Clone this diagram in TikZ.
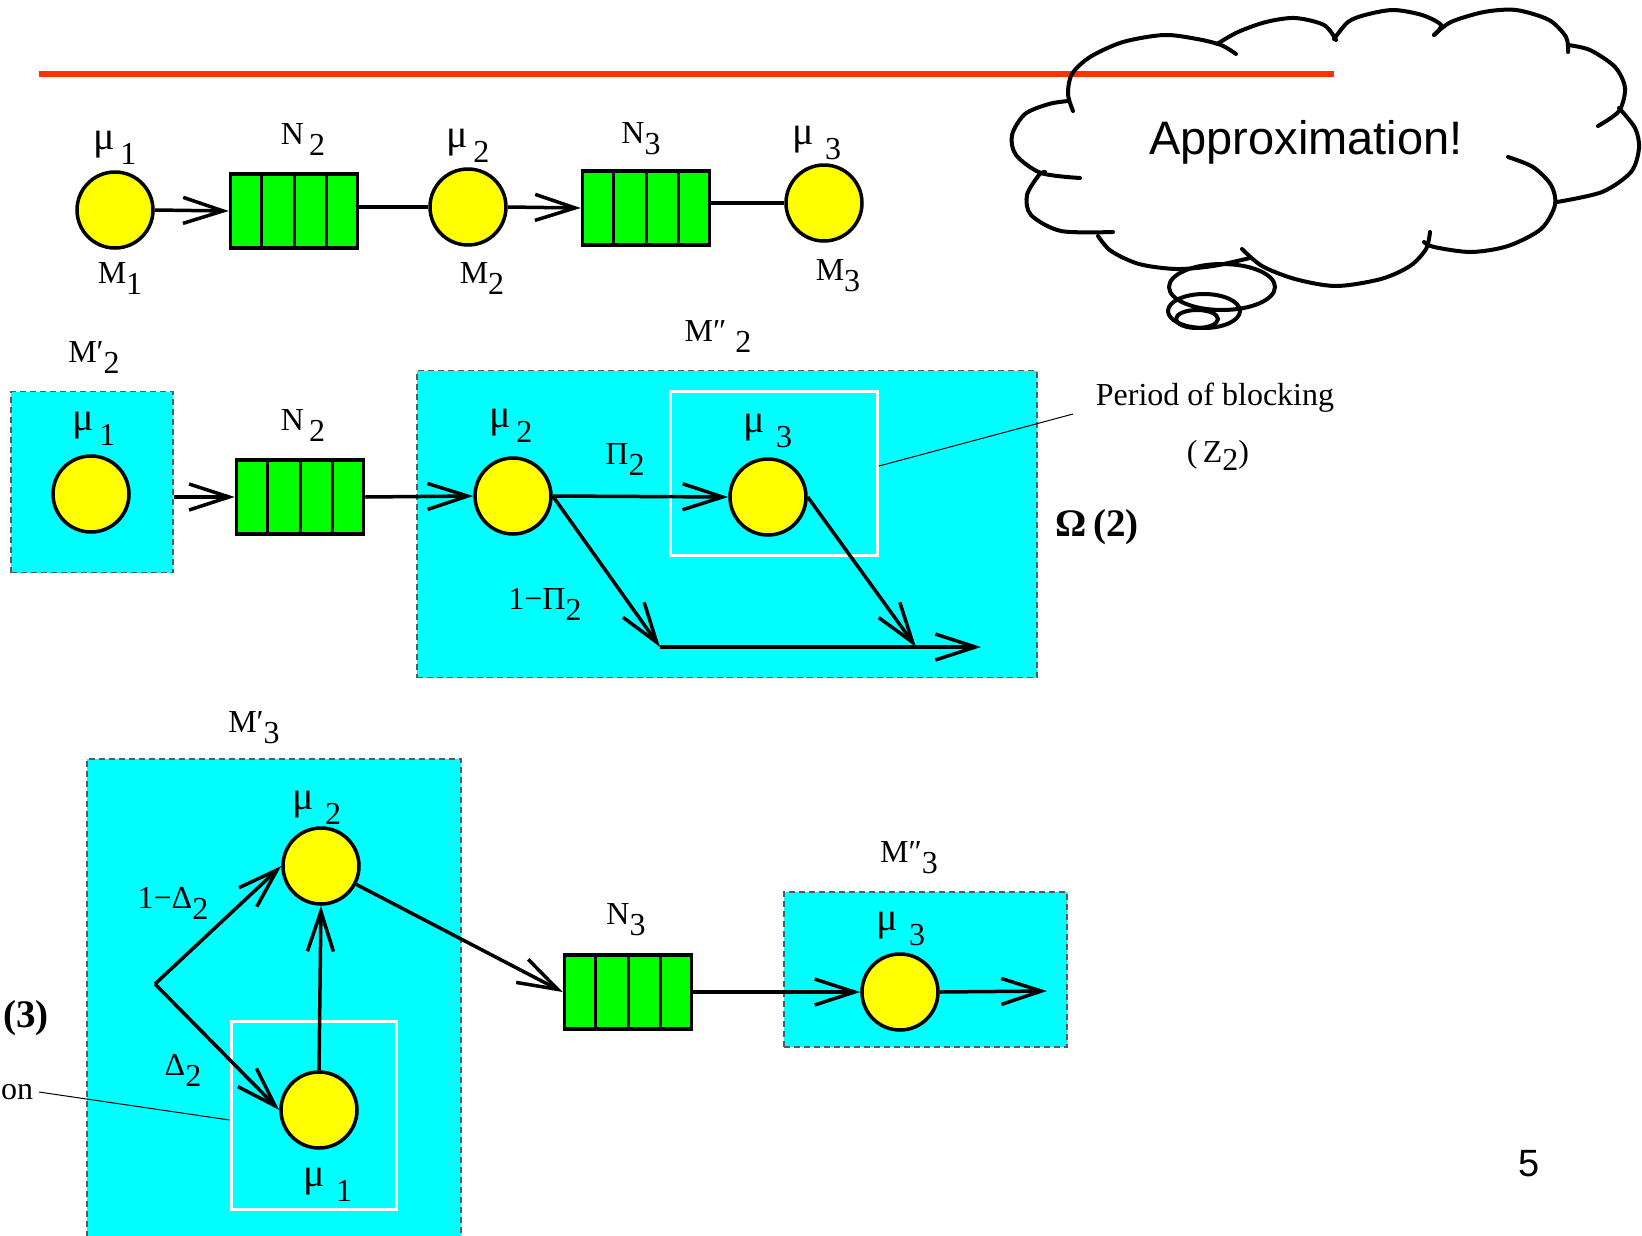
\documentclass[tikz,border=0pt]{standalone}
\usepackage{fontspec}
\setmainfont{Liberation Serif}
\setsansfont{Liberation Sans}
\usetikzlibrary{arrows.meta,calc}

\definecolor{rule}{RGB}{255,51,0}
\definecolor{stagecol}{RGB}{0,255,255}
\definecolor{bufcol}{RGB}{0,255,0}
\definecolor{servcol}{RGB}{255,255,0}

\tikzset{
  server/.style={circle,draw,fill=servcol,line width=3.5pt,minimum size=76pt,inner sep=0pt},
  buffer/.style={rectangle,draw,fill=bufcol,line width=3.5pt,minimum width=127pt,minimum height=74pt,inner sep=0pt},
  stage/.style={rectangle,draw=black!65,dash pattern=on 6pt off 4pt,fill=stagecol,line width=1.3pt,inner sep=0pt},
  hold/.style={rectangle,draw=white,line width=3pt,inner sep=0pt},
  arr/.style={line width=3.5pt,-{Straight Barb[length=40pt,width=26pt]}},
  link/.style={line width=3.5pt},
  lbl/.style={font=\fontsize{32}{38}\selectfont,inner sep=0pt},
  leader/.style={line width=1pt},
  puff/.style={line width=4pt,line cap=round},
}
\newcommand{\lo}[1]{\raisebox{-11pt}{#1}}
\newcommand{\rt}[1]{\raisebox{5pt}{\fontsize{40}{46}\selectfont μ}\,\raisebox{-10pt}{#1}}

\begin{document}
\begin{tikzpicture}[x=1pt,y=-1pt]
\useasboundingbox (0,0) rectangle (1642,1235);
\fill[white] (0,0) rectangle (1642,1235);

% title rule
\draw[rule,line width=6pt] (39,74) -- (1334,74);

% first line
\node[server] (c11) at (115,210) {};
\node[buffer] (q1) at (294,211) {};
\node[server] (c12) at (468,207) {};
\node[buffer] (q2) at (646,208) {};
\node[server] (c13) at (824,203) {};

\draw[arr] (c11.east) -- (q1.west);
\draw[link] (q1.east |- c12) -- (c12.west);
\draw[arr] (c12.east) -- (q2.west);
\draw[link] (q2.east |- c13) -- (c13.west);

\node[lbl] (mu11) at (115,148) {\rt{1}};
\node[lbl] (n12) at (303,140) {N\,\lo{2}};
\node[lbl] (mu12) at (468,146) {\rt{2}};
\node[lbl] (n13) at (641,139) {N\lo{3}};
\node[lbl] (mu13) at (817,143) {\rt{\,3}};
\node[lbl] (m1) at (120,279) {M\lo{1}};
\node[lbl] (m2) at (482,279) {M\lo{2}};
\node[lbl] (m3) at (838,276) {M\lo{3}};

% thought cloud
\draw[puff] plot[smooth] coordinates {(1073,111) (1068,94) (1072,74) (1090,57) (1123,42) (1164,35) (1197,39) (1221,45) (1236,54)};
\draw[puff] plot[smooth] coordinates {(1217,44) (1238,32) (1266,22) (1295,18) (1324,25) (1336,40)};
\draw[puff] plot[smooth] coordinates {(1334,39) (1348,22) (1365,15) (1393,10) (1422,15) (1441,25) (1434,35)};
\draw[puff] plot[smooth] coordinates {(1434,35) (1451,22) (1484,12) (1516,10) (1549,20) (1566,37) (1568,52)};
\draw[puff] plot[smooth] coordinates {(1568,45) (1590,50) (1615,67) (1625,88) (1619,111) (1598,126)};
\draw[puff] plot[smooth] coordinates {(1619,108) (1635,128) (1639,148) (1631,172) (1602,192) (1557,202)};
\draw[puff] plot[smooth] coordinates {(1508,157) (1533,167) (1551,185) (1555,205) (1541,229) (1508,246) (1471,252) (1434,247) (1424,242)};
\draw[puff] plot[smooth] coordinates {(1430,232) (1426,249) (1410,266) (1381,279) (1336,286) (1295,279) (1262,266) (1242,249)};
\draw[puff] plot[smooth] coordinates {(1250,258) (1213,266) (1176,269) (1139,264) (1111,251) (1098,236)};
\draw[puff] plot[smooth] coordinates {(1113,232) (1061,231) (1031,215) (1027,195) (1039,175) (1045,172)};
\draw[puff] plot[smooth] coordinates {(1080,178) (1041,173) (1016,155) (1012,135) (1025,114) (1049,104) (1068,101)};
\draw[puff] (1222,287) ellipse [x radius=53,y radius=23];
\draw[puff] (1204,311) ellipse [x radius=36,y radius=17];
\draw[puff] (1197,319) ellipse [x radius=21,y radius=9];
\node[font=\sffamily\fontsize{47}{56}\selectfont,inner sep=0pt] (approx) at (1306,142) {Approximation!};

% second line
\node[stage,minimum width=162pt,minimum height=181pt] (b1) at (92,482) {};
\node[stage,minimum width=620pt,minimum height=307pt] (b2) at (727,524) {};
\node[hold,minimum width=207pt,minimum height=164pt] (w1) at (774,473) {};
\node[server] (c21) at (91,494) {};
\node[buffer] (q3) at (300,497) {};
\node[server] (c22) at (513,496) {};
\node[server] (c23) at (768,497) {};
\coordinate (pa) at (660,647);
\coordinate (pb) at (916,647);
\coordinate (pout) at (981,647);

\draw[arr] (q3.west -| b1.east) -- (q3.west);
\draw[arr] (q3.east) -- (c22.west);
\draw[arr] (c22.east) -- (c23.west);
\draw[arr] (c22.east) -- (pa);
\draw[arr] (c23.east) -- (pb);
\draw[arr] (pa) -- (pout);

\node[lbl] (m22a) at (94,358) {M′\lo{2}};
\node[lbl] (mu21) at (94,429) {\rt{1}};
\node[lbl] (n22) at (303,426) {N\,\lo{2}};
\node[lbl] (m22b) at (718,337) {M″\;\lo{2}};
\node[lbl] (mu22) at (511,426) {\rt{2}};
\node[lbl] (pi2) at (625,460) {Π\lo{2}};
\node[lbl] (mu23) at (768,431) {\rt{\,3}};
\node[lbl] (npi2) at (545,604) {1−Π\lo{2}};
\node[lbl] (block) at (1215,398) {Period of blocking};
\node[lbl] (z2) at (1218,455) {(\,Z\raisebox{-8pt}{2})};
\node[lbl,font=\fontsize{39}{46}\selectfont\bfseries] (om2) at (1097,527) {Ω\,(2)};
\draw[leader] (w1.east |- 0,466) -- (1073,414);

% third line
\node[stage,minimum width=374pt,minimum height=490pt] (b3) at (274,1004) {};
\node[stage,minimum width=283pt,minimum height=155pt] (b4) at (925.5,969.5) {};
\node[hold,minimum width=165pt,minimum height=188pt] (w2) at (313.5,1115) {};
\node[server] (c32) at (321,866) {};
\node[server] (c31) at (319,1110) {};
\node[buffer] (q4) at (628,992) {};
\node[server] (c33) at (900,992) {};
\coordinate (fork) at (155,984);
\coordinate (out3) at (1047,991);

\foreach \q in {q1,q2,q3,q4}
  \foreach \i in {1,2,3}
    \draw[line width=3pt] ($(\q.north west)!\i/4!(\q.north east)$) -- ($(\q.south west)!\i/4!(\q.south east)$);

\draw[arr] (fork) -- (c32.west);
\draw[arr] (fork) -- (c31.west);
\draw[arr] (c31.north) -- (c32.south);
\draw[arr] (c32) -- (q4.west);
\draw[arr] (q4.east) -- (c33.west);
\draw[arr] (c33.east) -- (out3);

\node[lbl] (m33a) at (254,728) {M′\lo{3}};
\node[lbl] (mu32) at (317,808) {\rt{\,2}};
\node[lbl] (mu31) at (328,1185) {\rt{\,1}};
\node[lbl] (nd2) at (173,903) {1−Δ\lo{2}};
\node[lbl] (d2) at (183,1070) {Δ\lo{2}};
\node[lbl] (n33) at (626,920) {N\lo{3}};
\node[lbl] (m33b) at (909,858) {M″\lo{3}};
\node[lbl] (mu33) at (901,929) {\rt{\,3}};
\node[lbl,font=\fontsize{39}{46}\selectfont\bfseries,anchor=west] (om3) at (3,1018) {(3)};
\node[lbl,anchor=west] (act) at (1,1092) {on};
\draw[leader] (39,1092) -- (w2.west |- 0,1120);

\node[font=\sffamily\fontsize{38}{44}\selectfont,inner sep=0pt] (page) at (1529,1164) {5};
\end{tikzpicture}
\end{document}
